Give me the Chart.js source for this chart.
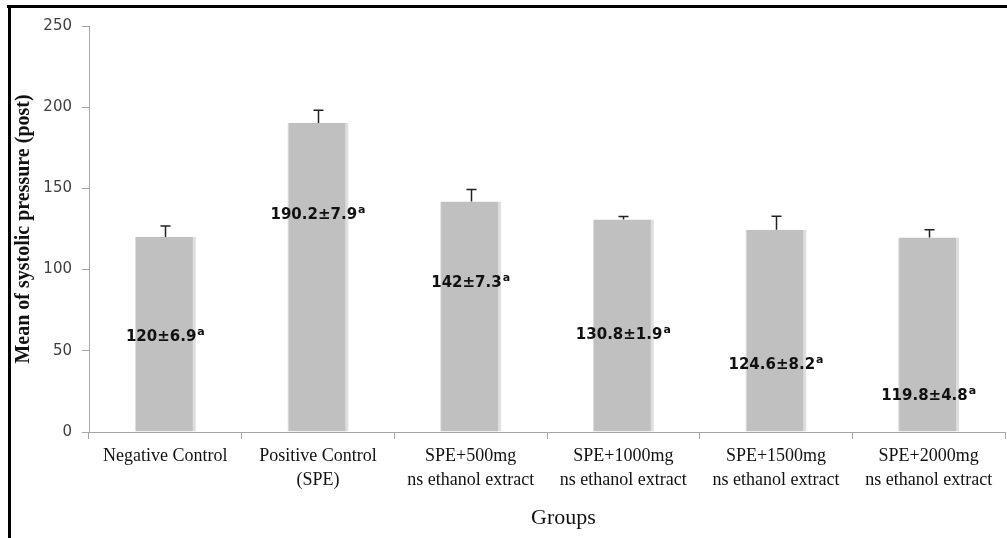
<!DOCTYPE html>
<html>
<head>
<meta charset="utf-8">
<script src="https://cdn.jsdelivr.net/npm/chart.js@4.4.1/dist/chart.umd.min.js"></script>
<style>
  html, body { margin: 0; padding: 0; background: #ffffff; }
  #wrap { width: 1007px; height: 538px; position: relative; }
</style>
</head>
<body>
<div id="wrap"><canvas id="chart" width="1007" height="538"></canvas></div>
<script>
// Group names (multi-line category labels)
const groups = [
  ["Negative Control"],
  ["Positive Control", "(SPE)"],
  ["SPE+500mg", "ns ethanol extract"],
  ["SPE+1000mg", "ns ethanol extract"],
  ["SPE+1500mg", "ns ethanol extract"],
  ["SPE+2000mg", "ns ethanol extract"]
];
// Mean systolic pressure (post) and its standard deviation
const meanValues = [120, 190.2, 142, 130.8, 124.6, 119.8];
const sdValues = [6.9, 7.9, 7.3, 1.9, 8.2, 4.8];
// Significance letters shown after each value
const sigLetters = ["a", "a", "a", "a", "a", "a"];
// Y axis ticks
const yTicks = [0, 50, 100, 150, 200, 250];

// Where each value label sits, in axis units
const labelLevels = [58.5, 133.6, 91.7, 59.7, 41.3, 22.2];

// Upper error whiskers with caps
const errorBars = {
  id: 'errorBars',
  afterDatasetsDraw(chart) {
    const ctx = chart.ctx;
    const meta = chart.getDatasetMeta(0);
    const y = chart.scales.y;
    ctx.save();
    ctx.strokeStyle = '#222222';
    ctx.lineWidth = 1.5;
    meta.data.forEach((bar, i) => {
      const x = Math.round(bar.x) + 0.5;
      const top = y.getPixelForValue(meanValues[i] + sdValues[i]);
      const base = y.getPixelForValue(meanValues[i]);
      ctx.beginPath();
      ctx.moveTo(x, base);
      ctx.lineTo(x, top);
      ctx.moveTo(x - 5, top);
      ctx.lineTo(x + 5, top);
      ctx.stroke();
    });
    ctx.restore();
  }
};

// "mean±sd" labels with a superscript letter
const valueLabels = {
  id: 'valueLabels',
  afterDatasetsDraw(chart) {
    const ctx = chart.ctx;
    const meta = chart.getDatasetMeta(0);
    const y = chart.scales.y;
    ctx.save();
    ctx.fillStyle = '#111111';
    ctx.textBaseline = 'middle';
    ctx.textAlign = 'left';
    const mainFont = 'bold 15px "DejaVu Sans", sans-serif';
    const supFont = 'bold 11px "DejaVu Sans", sans-serif';
    meta.data.forEach((bar, i) => {
      const main = meanValues[i] + '±' + sdValues[i];
      ctx.font = mainFont;
      const w1 = ctx.measureText(main).width;
      ctx.font = supFont;
      const w2 = ctx.measureText(sigLetters[i]).width;
      const x0 = bar.x - (w1 + w2 + 1) / 2;
      const cy = y.getPixelForValue(labelLevels[i]);
      ctx.font = mainFont;
      ctx.fillText(main, x0, cy);
      ctx.font = supFont;
      ctx.fillText(sigLetters[i], x0 + w1 + 1, cy - 5);
    });
    ctx.restore();
  }
};

// Black frame lines along the top and left edges
const frame = {
  id: 'frame',
  afterDraw(chart) {
    const ctx = chart.ctx;
    ctx.save();
    ctx.fillStyle = '#000000';
    ctx.fillRect(7, 5, 1000, 3);
    ctx.fillRect(8, 5, 3, 533);
    ctx.restore();
  }
};

new Chart(document.getElementById('chart'), {
  type: 'bar',
  data: {
    labels: groups,
    datasets: [{
      data: meanValues,
      backgroundColor: '#c0c0c0',
      borderColor: '#dedede',
      borderWidth: { left: 1, right: 3, top: 0, bottom: 0 },
      borderSkipped: false,
      barPercentage: 0.8,
      categoryPercentage: 0.5
    }]
  },
  options: {
    responsive: false,
    animation: false,
    devicePixelRatio: 1,
    layout: { padding: { top: 26, right: 2, left: 0, bottom: 0 } },
    plugins: {
      legend: { display: false },
      tooltip: { enabled: false }
    },
    scales: {
      x: {
        offset: true,
        grid: {
          offset: true,
          drawOnChartArea: false,
          drawTicks: true,
          tickLength: 7,
          color: '#a6a6a6',
          lineWidth: 1
        },
        border: { color: '#a6a6a6', width: 1 },
        ticks: {
          color: '#111111',
          padding: 5,
          maxRotation: 0,
          autoSkip: false,
          font: { family: '"Liberation Serif", "Times New Roman", serif', size: 18, lineHeight: 1.33 }
        },
        title: {
          display: true,
          text: '      Groups',
          color: '#111111',
          font: { family: '"Liberation Serif", "Times New Roman", serif', size: 22 },
          padding: { top: 0, bottom: 7 }
        },
        afterFit(s) { s.height = 106; }
      },
      y: {
        min: 0,
        max: 250,
        afterBuildTicks(s) { s.ticks = yTicks.map(v => ({ value: v })); },
        grid: {
          drawOnChartArea: false,
          drawTicks: true,
          tickLength: 7,
          color: '#a6a6a6'
        },
        border: { color: '#a6a6a6', width: 1 },
        ticks: {
          color: '#404040',
          padding: 10,
          font: { family: '"DejaVu Sans", sans-serif', size: 15 }
        },
        title: {
          display: true,
          text: 'Mean of systolic pressure (post)',
          color: '#111111',
          font: { family: '"Liberation Serif", "Times New Roman", serif', size: 20, weight: 'bold' },
          padding: { top: 12, bottom: 0 }
        },
        afterFit(s) { s.width = 89; }
      }
    }
  },
  plugins: [errorBars, valueLabels, frame]
});
</script>
</body>
</html>
